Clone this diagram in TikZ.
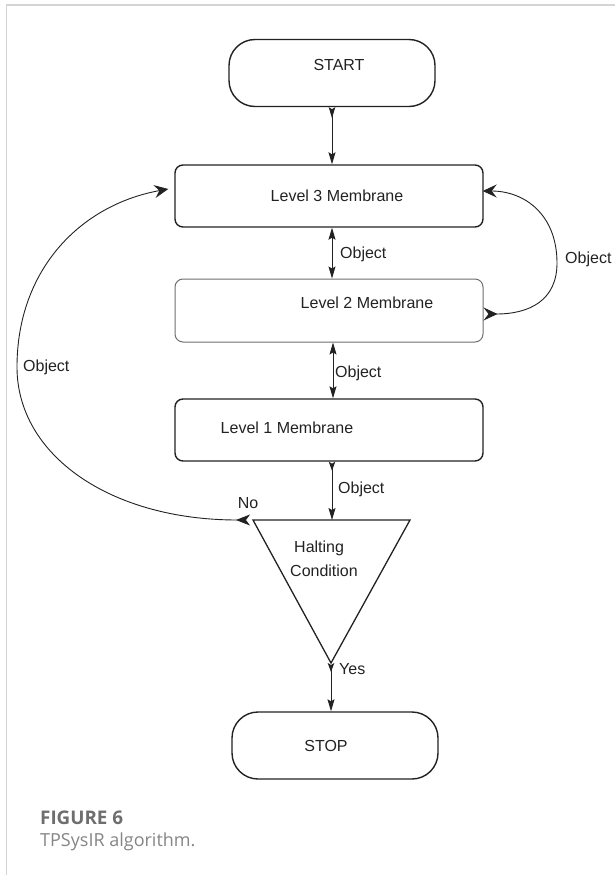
\documentclass[tikz,border=0pt]{standalone}
\usepackage{fontspec}
\setmainfont{Liberation Sans}
\newfontfamily\capfont{Open Sans}
\usetikzlibrary{arrows.meta}
\definecolor{ink}{HTML}{222222}
\definecolor{framegray}{HTML}{D4D4D4}
\definecolor{capgray}{HTML}{6E6E6E}
\definecolor{capgraylight}{HTML}{858585}
\begin{document}
\begin{tikzpicture}[x=1pt,y=-1pt,
  box/.style={draw=ink, line width=1.4pt, rounded corners=8pt, minimum width=308pt, minimum height=62pt, inner sep=0pt},
  term/.style={draw=ink, line width=1.4pt, rounded corners=26pt, minimum width=206pt, minimum height=67pt, inner sep=0pt},
  txt/.style={font=\fontsize{16}{19}\selectfont, text=ink, inner sep=0pt},
  conn/.style={draw=ink, line width=0.9pt},
]
\useasboundingbox (0,0) rectangle (615,875);
% frame
\draw[framegray, line width=1.5pt] (615,5) -- (6.5,5) -- (6.5,875);

% nodes
\node[term, label={[txt, xshift=7pt, yshift=8pt]center:START}] (START) at (332,73) {};
\node[box, label={[txt, xshift=8pt]center:Level 3 Membrane}] (L3) at (329,196) {};
\node[box, draw=ink!65, line width=1pt, minimum height=63pt, label={[txt, xshift=38pt, yshift=7.5pt]center:Level 2 Membrane}] (L2) at (329,310.5) {};
\node[box, label={[txt, xshift=-42pt, yshift=2pt]center:Level 1 Membrane}] (L1) at (329,430) {};
\node[term, label={[txt, xshift=-9pt]center:STOP}] (STOP) at (335,745.5) {};

% triangle
\coordinate (tl) at (253,520);
\coordinate (tr) at (410,520);
\coordinate (apex) at (331,663);
\coordinate (ttop) at (332,520);
\draw[ink, line width=1.3pt, line join=miter] (tl) -- (tr) -- (apex) -- cycle;
\node[txt, anchor=north west, align=left, font=\fontsize{16}{24}\selectfont] (halt) at (290,541) {\hspace*{4pt}Halting\\Condition};

% straight connectors
\draw[conn, {Stealth[reversed, length=11pt, width=6.5pt, inset=2pt]}-{Stealth[length=12pt, width=7pt, inset=2pt]}] (START.south) -- (START.south |- L3.north);
\draw[conn, {Stealth[length=12pt, width=7pt, inset=2pt]}-{Stealth[length=12pt, width=7pt, inset=2pt]}] ([xshift=3pt]L3.south) -- ([xshift=3pt]L2.north);
\draw[conn, {Stealth[length=12pt, width=7pt, inset=2pt]}-{Stealth[length=12pt, width=7pt, inset=2pt]}] ([xshift=4pt]L2.south) -- ([xshift=4pt]L1.north);
\draw[conn, {Stealth[reversed, length=9pt, width=6.5pt, inset=2pt]}-{Stealth[length=12pt, width=7pt, inset=2pt]}] ([xshift=3pt]L1.south) -- (ttop);
\draw[conn, {Stealth[reversed, length=9pt, width=6.5pt, inset=2pt]}-{Stealth[length=12pt, width=7pt, inset=2pt]}] (apex) -- (apex |- STOP.north);

% curved connectors
\draw[conn, {Stealth[reversed, length=14pt, width=11pt, inset=4pt]}-{Stealth[length=14pt, width=13pt, inset=5pt]}]
  ([xshift=-3pt]tl) .. controls (110,520) and (17,455) .. (17,367)
  .. controls (17,270) and (80,205) .. ([xshift=-6pt, yshift=7pt]L3.west);
\draw[conn, {Stealth[reversed, length=14pt, width=13pt, inset=5pt]}-{Stealth[length=14pt, width=13pt, inset=5pt]}]
  ([yshift=-3.5pt]L2.east) .. controls (530,314) and (557,300) .. (557,263)
  .. controls (557,215) and (525,191) .. ([xshift=-1pt, yshift=5pt]L3.east);

% labels
\node[txt, anchor=west] (o1) at (340,254) {Object};
\node[txt, anchor=west] (o2) at (335,373) {Object};
\node[txt, anchor=west] (o3) at (338,489) {Object};
\node[txt, anchor=west] (oleft) at (23,367) {Object};
\node[txt, anchor=west] (oright) at (565,259) {Object};
\node[txt] (no) at (248,503) {No};
\node[txt, anchor=west] (yes) at (339,669) {Yes};

% caption
\node[anchor=west, inner sep=0pt, font=\capfont\bfseries\fontsize{18.8}{22}\selectfont, text=capgray] (fig) at (40,818) {FIGURE 6};
\node[anchor=west, inner sep=0pt, font=\capfont\fontsize{18}{22}\selectfont, text=capgraylight] (cap) at (40,842) {TPSysIR algorithm.};
\end{tikzpicture}
\end{document}
